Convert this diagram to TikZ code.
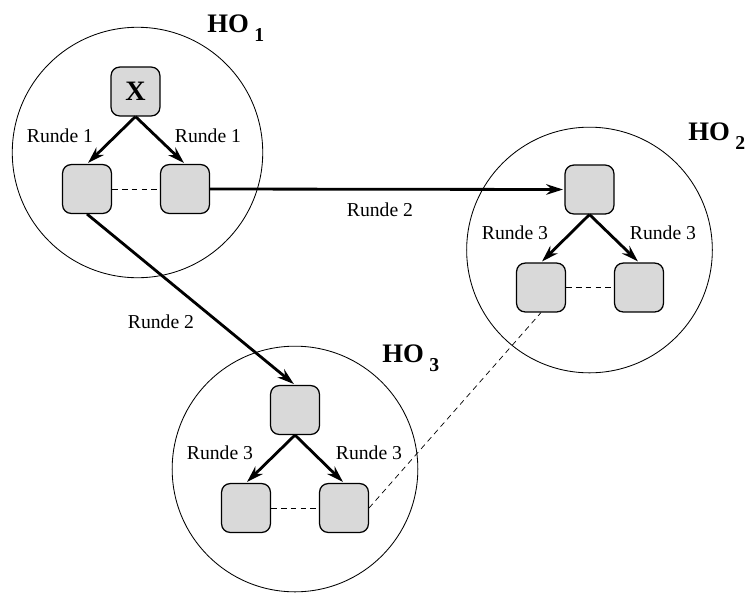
\documentclass[tikz,border=0pt]{standalone}
\usepackage{fontspec}
\setmainfont{Liberation Serif}
\usetikzlibrary{arrows.meta}
\newcommand{\hotext}[1]{HO\kern4pt\raisebox{-7pt}{\fontsize{14}{14}\selectfont #1}}

\begin{document}
\begin{tikzpicture}[x=0.025cm, y=-0.025cm,
    knoten/.style={draw, line width=0.9pt, fill=black!15, rounded corners=6pt,
      minimum size=1.22cm, inner sep=0pt, font=\fontsize{20}{20}\selectfont\bfseries},
    runde/.style={font=\fontsize{14}{16}\selectfont},
    holabel/.style={anchor=base west, inner sep=0pt, font=\fontsize{19}{19}\selectfont\bfseries},
    pfeil/.style={line width=2pt, shorten >=1pt, -{Stealth[length=12pt,width=7.5pt,inset=4pt]}},
    verbindung/.style={line width=0.5pt, dash pattern=on 4pt off 3pt},
    kreis/.style={line width=0.6pt}]
		%%%%% START %%%%%
		\useasboundingbox (0,0) rectangle (746,594);
		
		% Kreise
		\draw[kreis] (137.5,152.5) circle[radius=3.13cm];
		\draw[kreis] (589.5,250) circle[radius=3.07cm];
		\draw[kreis] (295,469) circle[radius=3.07cm];
		
		\node[holabel] (ho1) at (207,32) {\hotext{1}};
		\node[holabel] (ho2) at (688,140) {\hotext{2}};
		\node[holabel] (ho3) at (382,362) {\hotext{3}};
		
		% HO 1
		\node[knoten] (x1) at (135.5,91.5) {X};
		\node[knoten] (a1) at (87,189) {};
		\node[knoten] (b1) at (185,189) {};
		
		% HO 2
		\node[knoten] (w2) at (589.5,189.5) {};
		\node[knoten] (a2) at (541,287.5) {};
		\node[knoten] (b2) at (639,287.5) {};
		
		% HO 3
		\node[knoten] (w3) at (295,410) {};
		\node[knoten] (a3) at (246,508) {};
		\node[knoten] (b3) at (344,508) {};
		
		\draw[pfeil] (x1.south) -- (a1.north);
		\draw[pfeil] (x1.south) -- (b1.north);
		\draw[pfeil] (w2.south) -- (a2.north);
		\draw[pfeil] (w2.south) -- (b2.north);
		\draw[pfeil] (w3.south) -- (a3.north);
		\draw[pfeil] (w3.south) -- (b3.north);
		
		\draw[pfeil] (b1.east) -- (w2.west);
		\draw[pfeil] (a1.south) -- (w3.north);
		
		\draw[verbindung] (a1.east) -- (b1.west);
		\draw[verbindung] (a2.east) -- (b2.west);
		\draw[verbindung] (a3.east) -- (b3.west);
		\draw[verbindung] (b3.east) -- (a2.south);
		
		\node[runde] (r1l) at (60,136) {Runde 1};
		\node[runde] (r1r) at (208,136) {Runde 1};
		\node[runde] (r2h) at (380,210) {Runde 2};
		\node[runde] (r2d) at (161,322) {Runde 2};
		\node[runde] (r3a) at (515,233) {Runde 3};
		\node[runde] (r3b) at (663,233) {Runde 3};
		\node[runde] (r3c) at (220,453) {Runde 3};
		\node[runde] (r3d) at (369,453) {Runde 3};
		
		%%%%% END %%%%%
\end{tikzpicture}
\end{document}
